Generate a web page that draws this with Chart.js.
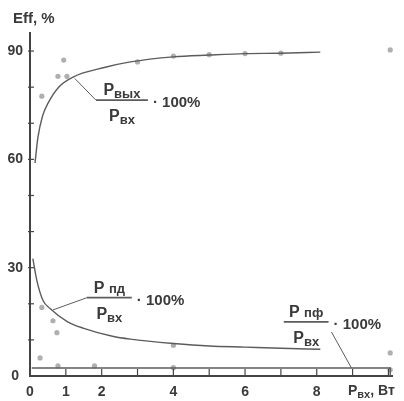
<!DOCTYPE html>
<html>
<head>
<meta charset="utf-8">
<script src="https://cdn.jsdelivr.net/npm/chart.js@4/dist/chart.umd.min.js"></script>
<style>
  html, body { margin: 0; padding: 0; background: #fff; }
  canvas { display: block; }
</style>
</head>
<body>
<canvas id="c" width="404" height="401"></canvas>
<script>
// Tick values that carry a printed label
const xLabelled = [0, 1, 2, 4, 6, 8];
const yLabelled = [0, 30, 60, 90];

// Efficiency Pвых/Pвх, % (smoothed curve)
const effX = [0.14, 0.22, 0.35, 0.5, 0.8, 1.2, 2.1, 2.8, 4, 5, 6, 7, 8.1];
const effY = [59, 66, 72, 75.5, 80, 82.8, 85.5, 87, 88.4, 88.9, 89.3, 89.4, 89.7];

// Losses Pпд/Pвх, %
const pdX = [0.08, 0.19, 0.36, 0.56, 1.05, 1.5, 2.3, 2.8, 4, 5, 6, 7, 8.1];
const pdY = [32.5, 26.5, 21, 18.7, 15, 13.2, 11, 10.2, 9, 8.3, 8, 7.7, 7.4];

// Losses Pпф/Pвх, %
const pfX = [0.05, 1, 2, 4, 6, 8, 10.05, 10.05];
const pfY = [2.2, 2.2, 2.2, 2.2, 2.2, 2.2, 2.2, 0];

// Measured points
const effPtX = [0.33, 0.78, 0.94, 1.03, 3, 4, 5, 6, 7, 10.05];
const effPtY = [77.5, 83, 87.5, 83, 87, 88.6, 89, 89.3, 89.4, 90.3];
const pdPtX = [0.33, 0.64, 0.75, 4, 10.05];
const pdPtY = [19, 15.3, 12, 8.5, 6.4];
const pfPtX = [0.28, 0.78, 1.8, 4, 10.05];
const pfPtY = [5, 2.8, 2.8, 2.3, 1.7];

// Formula captions: numerator, denominator, fraction bar (data units), leader line
const captions = [
  { num: ['P', 'вых', 3], den: ['P', 'вх', 3], bar: [1.84, 3.29, 76.4], lead: [[1.25, 82.4], [1.84, 76.4]] },
  { num: ['P ', 'пд', 0], den: ['P', 'вх', 3], bar: [1.59, 2.84, 21.7], lead: [[0.64, 18.3], [1.59, 21.7]] },
  { num: ['P ', 'пф', 0], den: ['P', 'вх', 3], bar: [7.08, 8.33, 15.0], lead: [[8.41, 12.2], [8.97, 2.2]] }
];

const pts = (xs, ys) => xs.map((x, i) => ({ x: x, y: ys[i] }));

const INK = '#3a3a3a';
const LINE = '#5c5c5c';
const FAM = '"Liberation Sans", Arial, sans-serif';

function subText(ctx, y, main, sub, drop, bigPx, smallPx) {
  ctx.font = 'bold ' + bigPx + 'px ' + FAM;
  const w1 = ctx.measureText(main).width;
  ctx.font = 'bold ' + smallPx + 'px ' + FAM;
  const w2 = ctx.measureText(sub).width;
  return { w: w1 + w2, draw: (left) => {
    ctx.font = 'bold ' + bigPx + 'px ' + FAM;
    ctx.fillText(main, left, y);
    ctx.font = 'bold ' + smallPx + 'px ' + FAM;
    ctx.fillText(sub, left + w1, y + drop);
  } };
}

const decor = {
  id: 'decor',
  afterDraw(chart) {
    const ctx = chart.ctx;
    const xs = chart.scales.x, ys = chart.scales.y;
    const area = chart.chartArea;
    ctx.save();
    ctx.strokeStyle = '#444';
    ctx.lineWidth = 1.2;
    // inward tick marks
    for (let v = 1; v <= 10; v++) {
      const px = xs.getPixelForValue(v);
      ctx.beginPath(); ctx.moveTo(px, area.bottom); ctx.lineTo(px, area.bottom - 7); ctx.stroke();
    }
    for (let v = 10; v <= 90; v += 10) {
      const py = ys.getPixelForValue(v);
      ctx.beginPath(); ctx.moveTo(area.left - 2, py); ctx.lineTo(area.left + 4, py); ctx.stroke();
    }

    ctx.fillStyle = INK;
    ctx.textBaseline = 'alphabetic';
    ctx.textAlign = 'left';

    // axis captions
    ctx.font = 'bold 15px ' + FAM;
    ctx.fillText('Eff, %', 13, 23);
    const xt = subText(ctx, 395, 'P', 'вх', 3, 14, 11);
    xt.draw(348);
    ctx.font = 'bold 14px ' + FAM;
    ctx.fillText(', Вт', 348 + xt.w, 395);

    // formula captions
    captions.forEach(c => {
      const x0 = xs.getPixelForValue(c.bar[0]);
      const x1 = xs.getPixelForValue(c.bar[1]);
      const yb = ys.getPixelForValue(c.bar[2]);
      ctx.strokeStyle = LINE;
      ctx.lineWidth = 1.6;
      ctx.beginPath(); ctx.moveTo(x0, yb); ctx.lineTo(x1, yb); ctx.stroke();
      ctx.lineWidth = 1;
      ctx.beginPath();
      ctx.moveTo(xs.getPixelForValue(c.lead[0][0]), ys.getPixelForValue(c.lead[0][1]));
      ctx.lineTo(xs.getPixelForValue(c.lead[1][0]), ys.getPixelForValue(c.lead[1][1]));
      ctx.stroke();

      const n = subText(ctx, yb - 5, c.num[0], c.num[1], c.num[2], 16, 13);
      n.draw((x0 + x1) / 2 - n.w / 2);
      const d = subText(ctx, yb + 21, c.den[0], c.den[1], c.den[2], 16, 13);
      d.draw((x0 + x1) / 2 - d.w / 2);
      ctx.font = 'bold 15px ' + FAM;
      ctx.fillText('\u00b7 100%', x1 + 5, yb + 7);
    });
    ctx.restore();
  }
};

const lineSet = (data) => ({
  data: data, showLine: true, pointRadius: 0, borderColor: LINE, borderWidth: 1.4,
  cubicInterpolationMode: 'monotone', fill: false
});
const dotSet = (data) => ({
  data: data, showLine: false, pointRadius: 2.6, pointBorderWidth: 0, clip: false,
  backgroundColor: 'rgba(110,110,110,0.55)', borderColor: 'rgba(110,110,110,0.55)'
});

new Chart(document.getElementById('c'), {
  type: 'scatter',
  data: {
    datasets: [
      lineSet(pts(effX, effY)),
      lineSet(pts(pdX, pdY)),
      Object.assign(lineSet(pts(pfX, pfY)), { cubicInterpolationMode: 'default', tension: 0 }),
      dotSet(pts(effPtX, effPtY)),
      dotSet(pts(pdPtX, pdPtY)),
      dotSet(pts(pfPtX, pfPtY))
    ]
  },
  options: {
    responsive: false,
    animation: false,
    devicePixelRatio: 1,
    layout: { padding: { top: 33, right: 12, left: 0, bottom: 0 } },
    plugins: { legend: { display: false }, tooltip: { enabled: false } },
    scales: {
      x: {
        type: 'linear', min: 0, max: 10.1,
        afterBuildTicks: s => { s.ticks = s.ticks.filter(t => Number.isInteger(t.value)); },
        afterFit: s => { s.height = 25; },
        grid: { display: false, drawTicks: false },
        border: { display: true, color: '#444', width: 2 },
        ticks: {
          stepSize: 1, autoSkip: false, maxRotation: 0, padding: 8, color: INK,
          font: { family: FAM, size: 14, weight: 'bold' },
          callback: v => xLabelled.includes(v) ? String(v) : ''
        }
      },
      y: {
        type: 'linear', min: 0, max: 95,
        afterBuildTicks: s => { s.ticks = s.ticks.filter(t => t.value % 10 === 0); },
        afterFit: s => { s.width = 30; },
        grid: { display: false, drawTicks: false },
        border: { display: true, color: '#444', width: 2 },
        ticks: {
          stepSize: 10, autoSkip: false, padding: 7, crossAlign: 'center', color: INK,
          font: { family: FAM, size: 14, weight: 'bold' },
          callback: v => yLabelled.includes(v) ? String(v) : ''
        }
      }
    }
  },
  plugins: [decor]
});
</script>
</body>
</html>
